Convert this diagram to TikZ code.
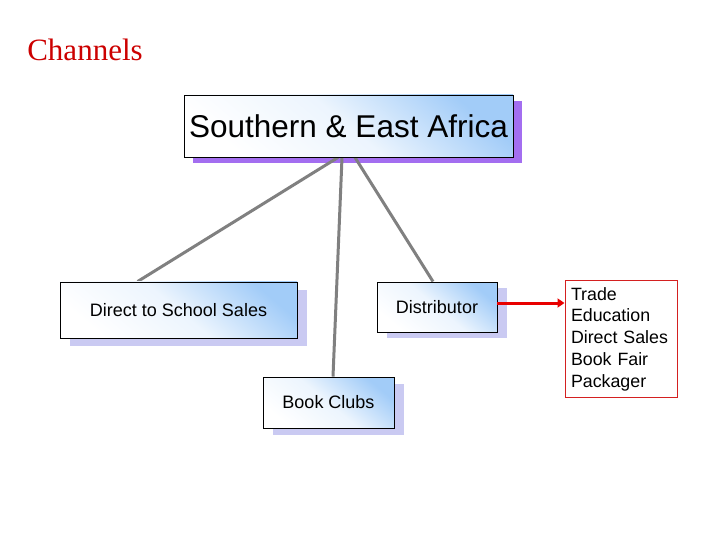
\documentclass[tikz,border=0pt]{standalone}
\usepackage{fontspec}
\setmainfont{Liberation Sans}
\newfontfamily\titlefont{Liberation Serif}
\usetikzlibrary{calc,backgrounds,arrows.meta}
\definecolor{titlered}{HTML}{CC0000}
\definecolor{boxblue}{HTML}{A2CCF8}
\definecolor{shadowpurple}{HTML}{A36EF0}
\definecolor{shadowlav}{HTML}{CACAF2}
\definecolor{linkgray}{HTML}{808080}
\definecolor{listred}{HTML}{D42020}
\definecolor{arrowred}{HTML}{E80000}
\tikzset{
  chanbox/.style={rectangle, draw=black, line width=0.9bp, inner sep=0pt,
    top color=boxblue, bottom color=white, middle color=white!80!boxblue, shading angle=-40},
  link/.style={draw=linkgray, line width=3bp},
  flowarrow/.style={draw=arrowred, line width=3bp, -{Triangle[length=7bp,width=9bp]}},
}
\begin{document}
\begin{tikzpicture}[x=1bp,y=-1bp]
\useasboundingbox (0,0) rectangle (720,540);
\node[text=titlered, font=\titlefont\fontsize{31bp}{36bp}\selectfont] (title) at (85,50) {Channels};

\node[chanbox, minimum width=329bp, minimum height=62bp, font=\fontsize{31.5bp}{36bp}\selectfont] (top) at (348.5,126) {Southern \& East Africa};
\node[chanbox, minimum width=237bp, minimum height=56bp, font=\fontsize{18bp}{21bp}\selectfont] (direct) at (178.5,310) {Direct to School Sales};
\node[chanbox, minimum width=120bp, minimum height=50bp, font=\fontsize{18bp}{21bp}\selectfont] (dist) at (437,307) {Distributor};
\node[chanbox, minimum width=131bp, minimum height=51bp, font=\fontsize{18bp}{21bp}\selectfont] (clubs) at (328.5,402.5) {Book Clubs};

\node[rectangle, draw=listred, line width=1bp, fill=white, minimum width=112bp, minimum height=116bp,
      text width=100bp, inner sep=6bp, align=left, font=\fontsize{17.8bp}{21.7bp}\selectfont] (list) at (621,339)
  {Trade\\Education\\Direct Sales\\Book Fair\\Packager};

\begin{scope}[on background layer]
  \fill[shadowpurple] ($(top.north west)+(9,6)$) rectangle ($(top.south east)+(9,6)$);
  \fill[shadowlav] ($(direct.north west)+(10,8)$) rectangle ($(direct.south east)+(10,8)$);
  \fill[shadowlav] ($(dist.north west)+(10,6)$) rectangle ($(dist.south east)+(10,6)$);
  \fill[shadowlav] ($(clubs.north west)+(10,7)$) rectangle ($(clubs.south east)+(10,7)$);
  \coordinate (s1) at ($(top.south)+(-10.5,0)$);
  \coordinate (s2) at ($(top.south)+(-6.5,0)$);
  \coordinate (s3) at ($(top.south)+(6.5,0)$);
  \draw[link] (s1) -- ($(direct.north west)+(78,0)$);
  \draw[link] (s2) -- ($(clubs.north)+(4.5,0)$);
  \draw[link] (s3) -- ($(dist.north)+(-4,0)$);
\end{scope}

\coordinate (a1) at ($(dist.east)+(0,-4)$);
\draw[flowarrow] (a1) -- (list.west |- a1);
\end{tikzpicture}
\end{document}
